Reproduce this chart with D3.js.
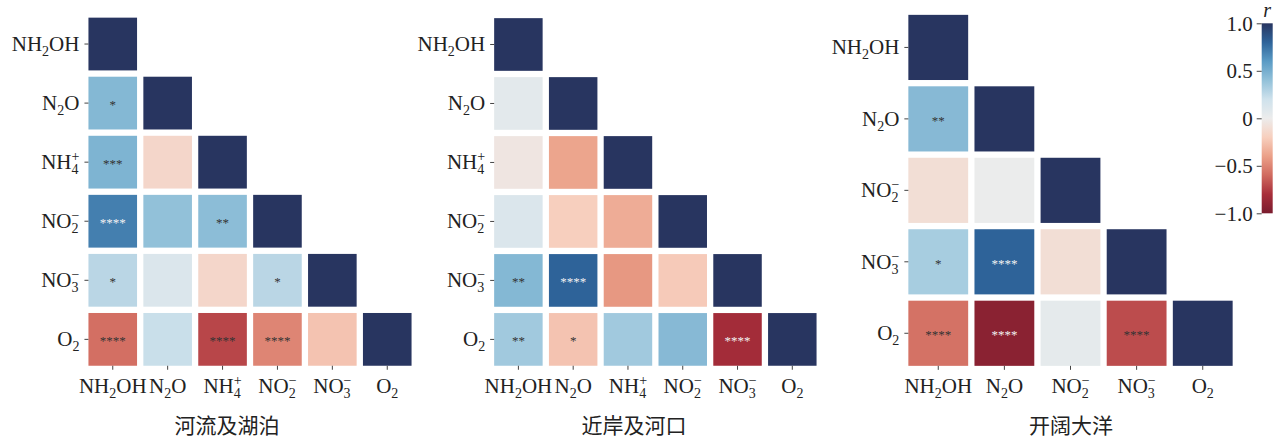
<!DOCTYPE html>
<html>
<head>
<meta charset="utf-8">
<script src="https://cdn.jsdelivr.net/npm/d3@7"></script>
<style>
  body { margin: 0; background: #fff; }
  svg { display: block; }
  .tick text { font-family: "Liberation Serif", "Times New Roman", serif; font-size: 21px; fill: #222; }
  .tick line { stroke: #444; }
  .title { font-family: "Noto Sans CJK SC", sans-serif; font-size: 21px; fill: #222; }
  .stars { font-family: "Liberation Serif", serif; font-size: 13px; }
</style>
</head>
<body>
<div id="chart"></div>
<script>
// variables per panel
const riverVars = ['NH2OH', 'N2O', 'NH4', 'NO2', 'NO3', 'O2'];
const coastVars = ['NH2OH', 'N2O', 'NH4', 'NO2', 'NO3', 'O2'];
const oceanVars = ['NH2OH', 'N2O', 'NO2', 'NO3', 'O2'];

// lower triangle correlation coefficients (row i, columns 0..i)
const riverR = [
  [1],
  [0.45, 1],
  [0.47, -0.15, 1],
  [0.70, 0.40, 0.42, 1],
  [0.27, 0.12, -0.15, 0.27, 1],
  [-0.58, 0.22, -0.72, -0.50, -0.25, 1]
];
const coastR = [
  [1],
  [0.06, 1],
  [-0.05, -0.38, 1],
  [0.12, -0.20, -0.35, 1],
  [0.45, 0.80, -0.43, -0.22, 1],
  [0.35, -0.25, 0.35, 0.44, -0.82, 1]
];
const oceanR = [
  [1],
  [0.44, 1],
  [-0.10, 0.01, 1],
  [0.33, 0.80, -0.10, 1],
  [-0.57, -0.93, 0.05, -0.70, 1]
];

// significance marks
const riverSig = [
  [''],
  ['*', ''],
  ['***', '', ''],
  ['****', '', '**', ''],
  ['*', '', '', '*', ''],
  ['****', '', '****', '****', '', '']
];
const coastSig = [
  [''],
  ['', ''],
  ['', '', ''],
  ['', '', '', ''],
  ['**', '****', '', '', ''],
  ['**', '*', '', '', '****', '']
];
const oceanSig = [
  [''],
  ['**', ''],
  ['', '', ''],
  ['*', '****', '', ''],
  ['****', '****', '', '****', '']
];

const titles = ['河流及湖泊', '近岸及河口', '开阔大洋'];

// colorbar ticks
const cbTicks = [-1, -0.5, 0, 0.5, 1];
const cbTickLabels = ['−1.0', '−0.5', '0', '0.5', '1.0'];

// label pieces: [text, kind]
const labelParts = {
  NH2OH: [['NH'], ['2', 'sub'], ['OH']],
  N2O: [['N'], ['2', 'sub'], ['O']],
  NH4: [['NH'], ['4', 'sub'], ['+', 'sup']],
  NO2: [['NO'], ['2', 'sub'], ['−', 'sup']],
  NO3: [['NO'], ['3', 'sub'], ['−', 'sup']],
  O2: [['O'], ['2', 'sub']]
};

const width = 1284, height = 442;
const fontSize = 21;

// RdBu-like diverging colours, tuned to the figure
const colorStops = ['#7a1c2e', '#a82e3a', '#d06a5f', '#eba088', '#f7cfbe', '#ececec',
  '#cfe2ec', '#92c1d9', '#5a9bc5', '#2e6399', '#283560'];
const color = d3.scaleLinear()
  .domain(d3.range(colorStops.length).map(i => -1 + 2 * i / (colorStops.length - 1)))
  .range(colorStops)
  .interpolate(d3.interpolateRgb);

const svg = d3.select('#chart').append('svg')
  .attr('width', width)
  .attr('height', height);

// writes a chemical formula into a text node with sub/superscripts
// (tspan dy overrides the axis' own dy, so the baseline shift is passed in)
const writeLabel = (textSel, key, base) => {
  textSel.text(null).attr('dy', null);
  let cur = 0;
  labelParts[key].forEach(([s, kind], k) => {
    const target = kind === 'sub' ? 5 : kind === 'sup' ? -8 : 0;
    const t = textSel.append('tspan')
      .attr('dy', target - cur + (k === 0 ? base : 0))
      .text(s);
    if (kind) t.style('font-size', '14px');
    if (kind === 'sup') t.attr('dx', -7);
    cur = target;
  });
};

const panels = [
  {vars: riverVars, r: riverR, sig: riverSig, xr: [85.3, 414.7], yr: [14.5, 368.9], titleX: 227},
  {vars: coastVars, r: coastR, sig: coastSig, xr: [491, 819.7], yr: [15.0, 368.9], titleX: 634},
  {vars: oceanVars, r: oceanR, sig: oceanSig, xr: [905.2, 1235.8], yr: [11.7, 369.0], titleX: 1071}
];
const gap = 6.3;

panels.forEach((p, pi) => {
  const n = p.vars.length;
  const xStep = (p.xr[1] - p.xr[0]) / n;
  const yStep = (p.yr[1] - p.yr[0]) / n;
  const x = d3.scaleBand().domain(p.vars).range(p.xr)
    .paddingInner(gap / xStep).paddingOuter(gap / xStep / 2);
  const y = d3.scaleBand().domain(p.vars).range(p.yr)
    .paddingInner(gap / yStep).paddingOuter(gap / yStep / 2);

  const cells = [];
  p.r.forEach((row, i) => row.forEach((v, j) => {
    cells.push({row: p.vars[i], col: p.vars[j], v, sig: p.sig[i][j]});
  }));

  const g = svg.append('g');
  g.selectAll('rect.cell')
    .data(cells)
    .join('rect')
    .attr('class', 'cell')
    .attr('x', d => x(d.col))
    .attr('y', d => y(d.row))
    .attr('width', x.bandwidth())
    .attr('height', y.bandwidth())
    .attr('fill', d => color(d.v));

  g.selectAll('text.stars')
    .data(cells.filter(d => d.sig))
    .join('text')
    .attr('class', 'stars')
    .attr('x', d => x(d.col) + x.bandwidth() / 2)
    .attr('y', d => y(d.row) + y.bandwidth() / 2 + 6)
    .attr('text-anchor', 'middle')
    .attr('fill', d => (d.v >= 0.65 || d.v <= -0.8) ? '#f2f2f2' : '#333')
    .text(d => d.sig);

  // y axis
  const yAxis = g.append('g')
    .attr('transform', `translate(${x(p.vars[0])},0)`)
    .call(d3.axisLeft(y).tickSize(4).tickPadding(5));
  yAxis.select('.domain').remove();
  yAxis.selectAll('.tick text').each(function(d) { writeLabel(d3.select(this), d, 0.32 * fontSize); });

  // x axis
  const xAxis = g.append('g')
    .attr('transform', `translate(0,${y(p.vars[n - 1]) + y.bandwidth()})`)
    .call(d3.axisBottom(x).tickSize(4).tickPadding(8));
  xAxis.select('.domain').remove();
  xAxis.selectAll('.tick text').each(function(d) { writeLabel(d3.select(this), d, 0.71 * fontSize); });

  g.append('text')
    .attr('class', 'title')
    .attr('x', p.titleX)
    .attr('y', 433)
    .attr('text-anchor', 'middle')
    .text(titles[pi]);
});

// colorbar
const cbX = 1261.7, cbW = 11;
const cbY = d3.scaleLinear().domain([-1, 1]).range([213.3, 23.3]);
const grad = svg.append('defs').append('linearGradient')
  .attr('id', 'cbgrad')
  .attr('x1', 0).attr('y1', 1).attr('x2', 0).attr('y2', 0);
grad.selectAll('stop')
  .data(d3.range(0, 1.001, 0.05))
  .join('stop')
  .attr('offset', d => d)
  .attr('stop-color', d => color(-1 + 2 * d));
svg.append('rect')
  .attr('x', cbX)
  .attr('y', cbY(1))
  .attr('width', cbW)
  .attr('height', cbY(-1) - cbY(1))
  .attr('fill', 'url(#cbgrad)');
const cbAxis = svg.append('g')
  .attr('transform', `translate(${cbX},0)`)
  .call(d3.axisLeft(cbY).tickValues(cbTicks)
    .tickFormat((d, i) => cbTickLabels[i]).tickSize(5).tickPadding(4));
cbAxis.select('.domain').remove();
svg.append('text')
  .attr('x', cbX + cbW / 2)
  .attr('y', 17)
  .attr('text-anchor', 'middle')
  .style('font-family', '"Liberation Serif", serif')
  .style('font-style', 'italic')
  .style('font-size', '20px')
  .attr('fill', '#222')
  .text('r');
</script>
</body>
</html>
